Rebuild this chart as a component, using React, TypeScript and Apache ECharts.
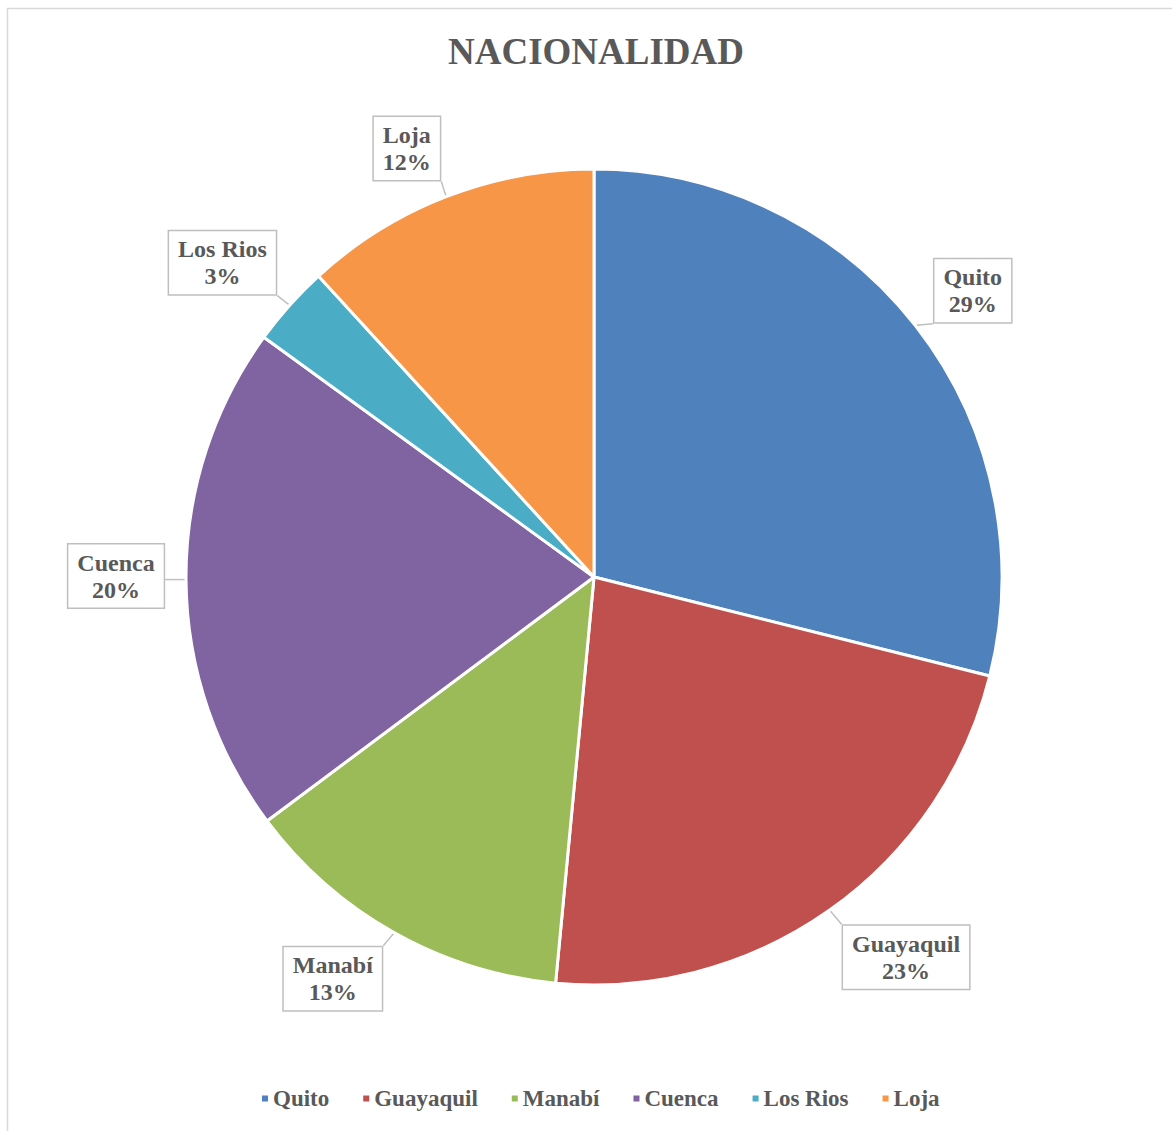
import React, { useEffect, useRef } from "react";
import * as echarts from "echarts";

const categories = ["Quito", "Guayaquil", "Manabí", "Cuenca", "Los Rios", "Loja"];
const values = [28.9, 22.6, 13.3, 20.2, 3.2, 11.8];
const colors = ["#4F81BD", "#C0504D", "#9BBB59", "#8064A2", "#4BACC6", "#F79646"];

// layout tweaks for the callout boxes (pixels), same order as categories
const labelNudgeX = [2, 36, -27, 0, -15, -14];
const labelNudgeY = [8, -10, -15, -4, 4, 17];

const CX = 594;
const CY = 577;
const R = 408;
const LABEL_DIST = 478;
const FONT = "'Liberation Serif', 'Times New Roman', serif";
const TEXT_COLOR = "#595959";

export default function App() {
  const ref = useRef<HTMLDivElement>(null);
  useEffect(() => {
    if (!ref.current) return;
    const chart = echarts.init(ref.current, null, { renderer: "svg" });
    const total = values.reduce((a, b) => a + b, 0);
    let acc = 0;
    const mids: number[] = [];
    const labelPos = values.map((v, i) => {
      const mid = ((acc + v / 2) / total) * 2 * Math.PI;
      mids.push(mid);
      acc += v;
      return [
        CX + LABEL_DIST * Math.sin(mid) + labelNudgeX[i],
        CY - LABEL_DIST * Math.cos(mid) + labelNudgeY[i],
      ];
    });
    chart.setOption({
      animation: false,
      backgroundColor: "#ffffff",
      color: colors,
      title: {
        text: "NACIONALIDAD",
        left: CX - 3,
        textAlign: "center",
        top: 28,
        textStyle: {
          fontFamily: FONT,
          fontWeight: "bold",
          fontSize: 37,
          color: TEXT_COLOR,
        },
      },
      legend: {
        bottom: 16,
        left: 255,
        icon: "rect",
        itemWidth: 8,
        itemHeight: 8,
        itemGap: 32,
        data: categories,
        textStyle: {
          fontFamily: FONT,
          fontWeight: "bold",
          fontSize: 23,
          color: TEXT_COLOR,
          padding: [0, 0, 0, -1],
        },
      },
      graphic: [
        {
          type: "rect",
          shape: { x: 7.5, y: 8.5, width: 1400, height: 1400 },
          style: { fill: "none", stroke: "#d9d9d9", lineWidth: 1.5 },
          silent: true,
        },
      ],
      series: [
        {
          type: "pie",
          center: [CX, CY],
          radius: R,
          startAngle: 90,
          clockwise: true,
          data: categories.map((c, i) => ({ name: c, value: values[i] })),
          itemStyle: { borderColor: "#ffffff", borderWidth: 3 },
          label: {
            show: true,
            position: "outside",
            formatter: (p: any) => `${p.name}\n${Math.round(p.percent)}%`,
            fontFamily: FONT,
            fontWeight: "bold",
            fontSize: 24,
            lineHeight: 27,
            color: TEXT_COLOR,
            backgroundColor: "#ffffff",
            borderColor: "#bfbfbf",
            borderWidth: 1.5,
            padding: [5, 9, 4, 9],
            align: "center",
          },
          labelLine: {
            show: true,
            length: 20,
            length2: 10,
            lineStyle: { color: "#bfbfbf", width: 1.5 },
          },
          labelLayout: (params: any) => {
            const i = params.dataIndex;
            const [x, y] = labelPos[i];
            const w = params.labelRect.width;
            const h = params.labelRect.height;
            const ax = CX + (R + 1) * Math.sin(mids[i]);
            const ay = CY - (R + 1) * Math.cos(mids[i]);
            const bx = Math.min(Math.max(ax, x - w / 2), x + w / 2);
            const by = Math.min(Math.max(ay, y - h / 2), y + h / 2);
            return {
              x,
              y,
              align: "center",
              verticalAlign: "middle",
              labelLinePoints: [
                [ax, ay],
                [(ax + bx) / 2, (ay + by) / 2],
                [bx, by],
              ],
            };
          },
          emphasis: { disabled: true },
        },
      ],
    });
    return () => chart.dispose();
  }, []);
  return (
    <div
      ref={ref}
      style={{ position: "absolute", left: 0, top: 0, width: 1172, height: 1131 }}
    />
  );
}
